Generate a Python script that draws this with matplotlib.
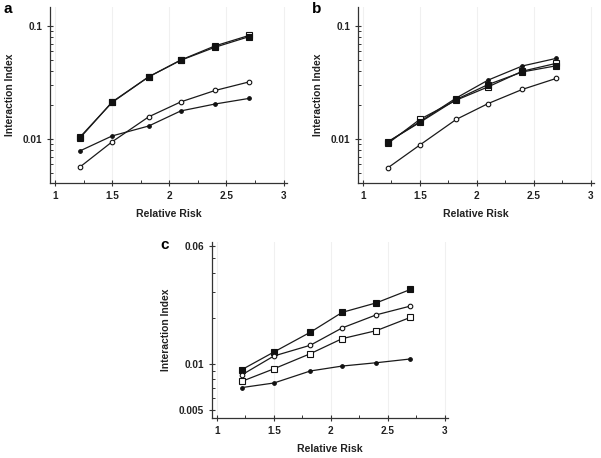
import matplotlib
matplotlib.use('Agg')
import matplotlib.pyplot as plt
from matplotlib.ticker import MultipleLocator, FixedLocator, LogLocator, NullFormatter, FuncFormatter

plt.rcParams['font.family'] = ['Liberation Sans', 'DejaVu Sans']
plt.rcParams['font.weight'] = 'bold'

# relative risk values (same for every panel)
rr = [1.22, 1.5, 1.82, 2.1, 2.4, 2.7]

# panel a
a_filled_sq = [0.0105, 0.0212, 0.0357, 0.0500, 0.0652, 0.0810]
a_open_sq = [0.0103, 0.0214, 0.0357, 0.0502, 0.0670, 0.0830]
a_open_ci = [0.0057, 0.0095, 0.0158, 0.0214, 0.0270, 0.0322]
a_filled_ci = [0.0079, 0.0107, 0.0131, 0.0178, 0.0205, 0.0230]

# panel b
b_filled_sq = [0.0095, 0.0141, 0.0225, 0.0305, 0.0394, 0.0447]
b_open_sq = [0.0092, 0.0150, 0.0222, 0.0291, 0.0400, 0.0470]
b_filled_ci = [0.0095, 0.0143, 0.0232, 0.0334, 0.0445, 0.0520]
b_open_ci = [0.0056, 0.0089, 0.0150, 0.0207, 0.0276, 0.0346]

# panel c
c_filled_sq = [0.0092, 0.0120, 0.0162, 0.0219, 0.0253, 0.0310]
c_open_ci = [0.0085, 0.0113, 0.0133, 0.0173, 0.0211, 0.0241]
c_open_sq = [0.0077, 0.0093, 0.0117, 0.0147, 0.0166, 0.0203]
c_filled_ci = [0.0070, 0.0075, 0.0090, 0.0097, 0.0102, 0.0108]

W, H = 601, 458
fig = plt.figure(figsize=(W / 100, H / 100), dpi=100)

line_kw = dict(color='#1a1a1a', lw=0.9)


def px_rect(x0, y_top, x1, y_bot):
    return [x0 / W, (H - y_bot) / H, (x1 - x0) / W, (y_bot - y_top) / H]


def style_axes(ax, ylim, yticks, ylabels, letter, letter_xy):
    ax.set_yscale('log')
    ax.set_xlim(0.956, 3.03)
    ax.set_ylim(*ylim)
    for s in ['top', 'right']:
        ax.spines[s].set_visible(False)
    for s in ['left', 'bottom']:
        ax.spines[s].set_linewidth(0.9)
        ax.spines[s].set_color('#333333')
    ax.xaxis.set_major_locator(MultipleLocator(0.5))
    ax.xaxis.set_minor_locator(MultipleLocator(0.25))
    ax.xaxis.set_major_formatter(FuncFormatter(lambda v, p: '%g' % v))
    ax.yaxis.set_major_locator(FixedLocator(yticks))
    ax.yaxis.set_major_formatter(FixedFormatterList(ylabels))
    ax.yaxis.set_minor_locator(LogLocator(base=10, subs=range(2, 10), numticks=20))
    ax.yaxis.set_minor_formatter(NullFormatter())
    ax.tick_params(which='major', direction='inout', length=5, width=0.8,
                   colors='#333333', labelsize=7.2, labelcolor='#222222')
    ax.tick_params(which='minor', direction='in', length=2.5, width=0.7, colors='#333333')
    ax.tick_params(axis='x', which='major', pad=3)
    ax.tick_params(axis='y', which='major', pad=3)
    ax.grid(axis='x', which='major', color='#f0f0f0', lw=0.8)
    ax.set_axisbelow(True)
    ax.set_xlabel('Relative Risk', fontsize=7.6, fontweight='bold', labelpad=6, color='#222222')
    ax.set_ylabel('Interaction Index', fontsize=7.4, fontweight='bold', labelpad=6, color='#222222')
    fig.text(letter_xy[0] / W, 1 - letter_xy[1] / H, letter, fontsize=11,
             fontweight='bold', ha='center', va='center')


def FixedFormatterList(labels):
    from matplotlib.ticker import FixedFormatter
    return FixedFormatter(labels)


def draw_series(ax, ys, marker, filled, ms):
    ax.plot(rr, ys, marker=marker, ms=ms, mew=0.8,
            mfc='#111111' if filled else 'white', mec='#111111', **line_kw)


# panel a
ax1 = fig.add_axes(px_rect(50, 7, 287, 183))
draw_series(ax1, a_open_sq, 's', False, 4)
draw_series(ax1, a_filled_sq, 's', True, 4)
draw_series(ax1, a_open_ci, 'o', False, 3.3)
draw_series(ax1, a_filled_ci, 'o', True, 2.6)
style_axes(ax1, (0.0041, 0.148), [0.01, 0.1], ['0.01', '0.1'], 'a', (8, 9))

# panel b
ax2 = fig.add_axes(px_rect(358, 7, 594, 183))
draw_series(ax2, b_open_ci, 'o', False, 3.3)
draw_series(ax2, b_filled_ci, 'o', True, 2.6)
draw_series(ax2, b_open_sq, 's', False, 4)
draw_series(ax2, b_filled_sq, 's', True, 4)
style_axes(ax2, (0.0041, 0.148), [0.01, 0.1], ['0.01', '0.1'], 'b', (317, 9))

# panel c
ax3 = fig.add_axes(px_rect(212, 242, 448, 418))
draw_series(ax3, c_filled_sq, 's', True, 4)
draw_series(ax3, c_open_ci, 'o', False, 3.3)
draw_series(ax3, c_open_sq, 's', False, 4)
draw_series(ax3, c_filled_ci, 'o', True, 2.6)
style_axes(ax3, (0.00441, 0.0637), [0.005, 0.01, 0.06], ['0.005', '0.01', '0.06'], 'c', (165, 245))

fig.savefig('out.png', dpi=100)
